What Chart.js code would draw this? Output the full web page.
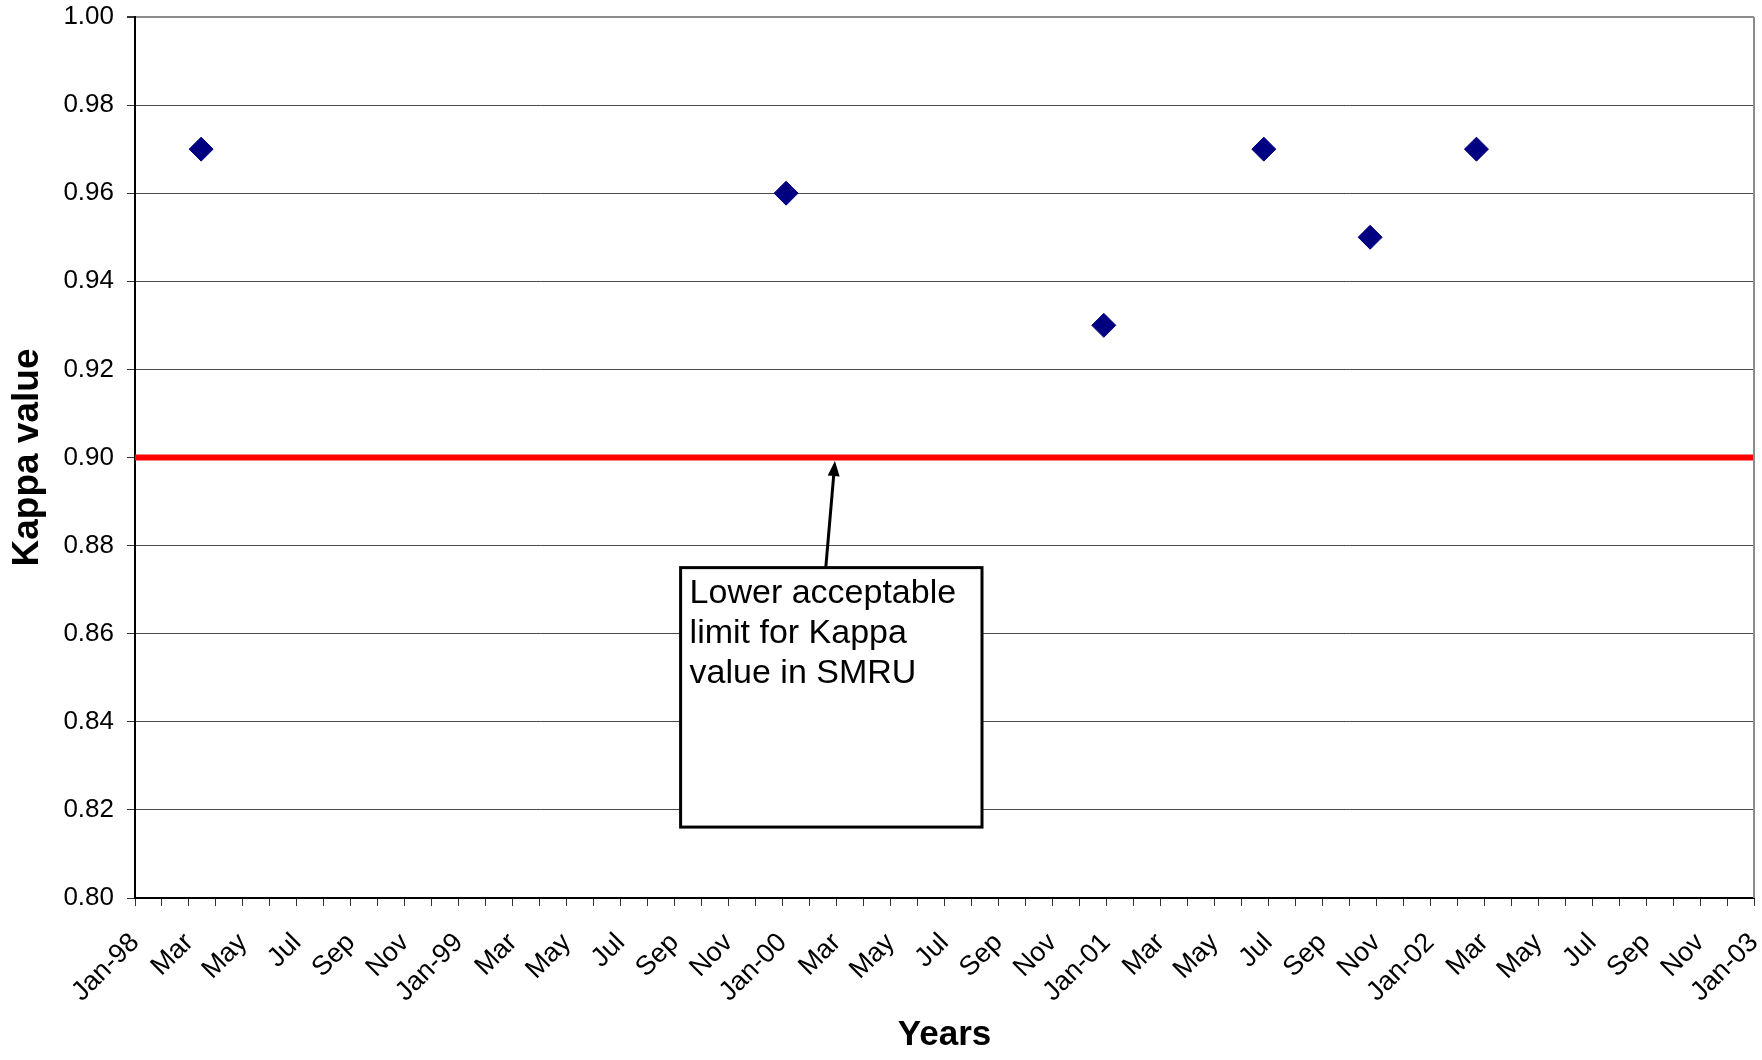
<!DOCTYPE html>
<html>
<head>
<meta charset="utf-8">
<title>Kappa value</title>
<script src="https://cdn.jsdelivr.net/npm/chart.js@4.4.1/dist/chart.umd.min.js"></script>
<style>
  html, body { margin: 0; padding: 0; background: #fff; }
  canvas { display: block; }
</style>
</head>
<body>
<canvas id="kappaChart" width="1762" height="1060"></canvas>
<script>
// sample dates and kappa values
const sampleDates = ['1998-03-15', '2000-01-05', '2000-12-29', '2001-06-26', '2001-10-25', '2002-02-21'];
const kappaValues = [0.97, 0.96, 0.93, 0.97, 0.95, 0.97];

// lower acceptable limit (red line)
const lowerLimit = 0.90;

// x labels, one every second month from Jan-98
const xTickLabels = ['Jan-98', 'Mar', 'May', 'Jul', 'Sep', 'Nov',
    'Jan-99', 'Mar', 'May', 'Jul', 'Sep', 'Nov',
    'Jan-00', 'Mar', 'May', 'Jul', 'Sep', 'Nov',
    'Jan-01', 'Mar', 'May', 'Jul', 'Sep', 'Nov',
    'Jan-02', 'Mar', 'May', 'Jul', 'Sep', 'Nov',
    'Jan-03'];

const noteLines = ['Lower acceptable', 'limit for Kappa', 'value in SMRU'];

// months since Jan 1998 (no date adapter here, so linear axis)
function toMonths(s) {
    const [y, m, d] = s.split('-').map(Number);
    const days = new Date(y, m, 0).getDate();
    return (y - 1998) * 12 + (m - 1) + (d - 1) / days;
}

const points = sampleDates.map((d, i) => ({ x: toMonths(d), y: kappaValues[i] }));

Chart.defaults.font.family = '"Liberation Sans", Arial, sans-serif';
Chart.defaults.color = '#000';

// text box + arrow pointing at the limit line, placed in axis units
const notePlugin = {
    id: 'note',
    afterDatasetsDraw(chart) {
        const { ctx, scales } = chart;
        const xs = scales.x, ys = scales.y;
        const left = xs.getPixelForValue(20.22);
        const right = xs.getPixelForValue(31.39);
        const top = ys.getPixelForValue(0.875);
        const bottom = ys.getPixelForValue(0.8161);

        ctx.save();
        // right border of plot area
        ctx.strokeStyle = '#8c8c8c';
        ctx.lineWidth = 2;
        ctx.beginPath();
        ctx.moveTo(chart.chartArea.right, chart.chartArea.top);
        ctx.lineTo(chart.chartArea.right, chart.chartArea.bottom);
        ctx.stroke();

        // box
        ctx.fillStyle = '#fff';
        ctx.fillRect(left, top, right - left, bottom - top);
        ctx.strokeStyle = '#000';
        ctx.lineWidth = 3;
        ctx.strokeRect(left, top, right - left, bottom - top);

        ctx.fillStyle = '#000';
        ctx.font = '34px "Liberation Sans", Arial, sans-serif';
        ctx.textAlign = 'left';
        ctx.textBaseline = 'alphabetic';
        noteLines.forEach((t, i) => ctx.fillText(t, left + 9, top + 35 + i * 40));

        // arrow
        const x0 = xs.getPixelForValue(25.6), y0 = top;
        const x1 = xs.getPixelForValue(25.94), y1 = ys.getPixelForValue(0.8992);
        const ang = Math.atan2(y1 - y0, x1 - x0);
        const headLen = 15, headW = 6;
        const bx = x1 - headLen * Math.cos(ang), by = y1 - headLen * Math.sin(ang);
        ctx.lineWidth = 3;
        ctx.beginPath();
        ctx.moveTo(x0, y0);
        ctx.lineTo(bx, by);
        ctx.stroke();
        ctx.beginPath();
        ctx.moveTo(x1, y1);
        ctx.lineTo(bx + headW * Math.sin(ang), by - headW * Math.cos(ang));
        ctx.lineTo(bx - headW * Math.sin(ang), by + headW * Math.cos(ang));
        ctx.closePath();
        ctx.fill();
        ctx.restore();
    }
};

new Chart(document.getElementById('kappaChart'), {
    type: 'scatter',
    data: {
        datasets: [
            {
                label: 'Kappa',
                data: points,
                pointStyle: 'rectRot',
                pointRadius: 12,
                pointHoverRadius: 12,
                backgroundColor: '#000080',
                borderColor: '#000080',
                borderWidth: 1,
                showLine: false
            },
            {
                label: 'Limit',
                data: [{ x: 0, y: lowerLimit }, { x: 60, y: lowerLimit }],
                showLine: true,
                borderColor: '#ff0000',
                borderWidth: 6,
                pointRadius: 0
            }
        ]
    },
    options: {
        responsive: false,
        animation: false,
        layout: { autoPadding: false, padding: { top: 17, right: 8, left: 0, bottom: 0 } },
        plugins: {
            legend: { display: false },
            tooltip: { enabled: false }
        },
        scales: {
            x: {
                type: 'linear',
                min: 0,
                max: 60,
                // fixed size, and no extra room for the rotated labels
                afterFit: s => { s.height = 162; s.paddingLeft = 0; s.paddingRight = 0; },
                grid: { drawOnChartArea: false, tickLength: 8, tickColor: '#333' },
                border: { color: '#000', width: 2 },
                ticks: {
                    stepSize: 1,
                    autoSkip: false,
                    maxRotation: 45,
                    minRotation: 45,
                    padding: 21,
                    font: { size: 27 },
                    callback: v => (v % 2 === 0 ? xTickLabels[v / 2] : '')
                },
                title: {
                    display: true,
                    text: 'Years',
                    font: { size: 35, weight: 'bold' },
                    padding: { top: 0, bottom: 4 }
                }
            },
            y: {
                min: 0.8,
                max: 1.0,
                afterFit: s => { s.width = 135; s.paddingTop = 0; s.paddingBottom = 0; },
                grid: {
                    color: c => (c.tick && c.tick.value === 1 ? '#8c8c8c' : '#4a4a4a'),
                    lineWidth: c => (c.tick && c.tick.value === 1 ? 2 : 1),
                    tickLength: 8,
                    tickColor: '#333'
                },
                border: { color: '#000', width: 2 },
                ticks: {
                    stepSize: 0.02,
                    padding: 13,
                    font: { size: 26 },
                    callback: v => v.toFixed(2)
                },
                title: {
                    display: true,
                    text: 'Kappa value',
                    font: { size: 37, weight: 'bold' },
                    padding: { top: 6, bottom: 0 }
                }
            }
        }
    },
    plugins: [notePlugin]
});
</script>
</body>
</html>
